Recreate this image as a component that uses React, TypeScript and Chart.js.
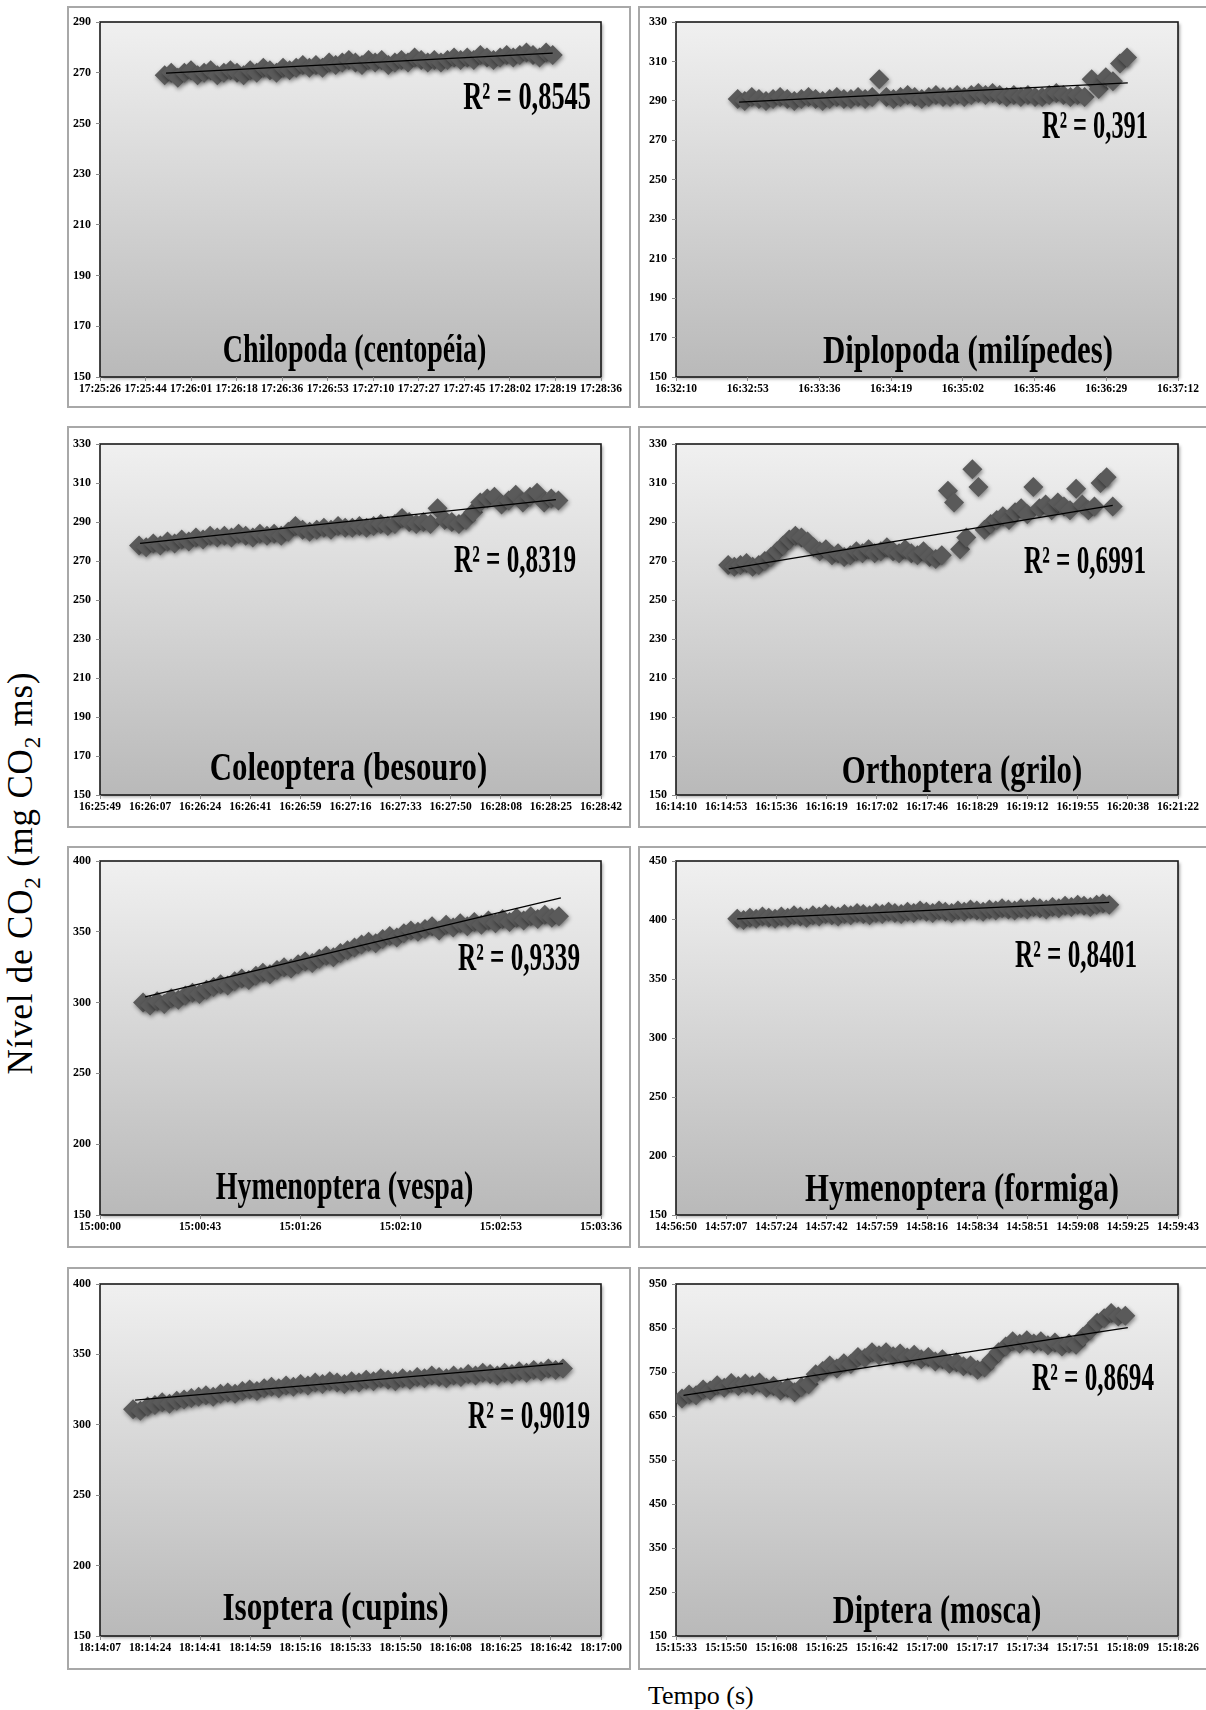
import React, { useEffect, useRef } from "react";
import { Chart, registerables } from "chart.js";
Chart.register(...registerables);

// ---------------- DATA ----------------
const chilopodaTicks = ["17:25:26", "17:25:44", "17:26:01", "17:26:18", "17:26:36", "17:26:53", "17:27:10", "17:27:27", "17:27:45", "17:28:02", "17:28:19", "17:28:36"];
const chilopodaCO2 = [269, 270, 268, 270, 271, 269, 270, 271, 269, 270, 271, 270, 269, 271, 270, 272, 271, 270, 272, 271, 272, 273, 272, 273, 272, 274, 273, 274, 275, 274, 273, 275, 274, 275, 273, 274, 275, 274, 276, 275, 274, 275, 274, 275, 276, 275, 276, 275, 277, 276, 275, 276, 277, 276, 277, 278, 277, 276, 278, 277];
const chilopodaSpan = [1.42, 9.94];
const chilopodaTrend = [1.45, 269.8, 9.94, 277.7];
const chilopodaY = [150, 290, 20];

const diplopodaTicks = ["16:32:10", "16:32:53", "16:33:36", "16:34:19", "16:35:02", "16:35:46", "16:36:29", "16:37:12"];
const diplopodaCO2 = [291, 290, 292, 291, 290, 291, 292, 291, 290, 291, 292, 291, 290, 291, 292, 291, 291, 292, 291, 292, 301, 292, 291, 292, 293, 292, 291, 292, 293, 292, 292, 293, 292, 293, 294, 293, 294, 293, 292, 293, 292, 293, 292, 292, 293, 294, 293, 292, 293, 292, 301, 296, 302, 300, 309, 312];
const diplopodaSpan = [0.86, 6.29];
const diplopodaTrend = [0.88, 289.4, 6.3, 299.1];
const diplopodaY = [150, 330, 20];

const coleopteraTicks = ["16:25:49", "16:26:07", "16:26:24", "16:26:41", "16:26:59", "16:27:16", "16:27:33", "16:27:50", "16:28:08", "16:28:25", "16:28:42"];
const coleopteraCO2 = [278, 277, 279, 278, 280, 279, 281, 280, 282, 281, 283, 282, 283, 282, 284, 283, 282, 284, 283, 284, 283, 285, 288, 286, 285, 286, 287, 286, 288, 287, 287, 288, 287, 288, 289, 288, 289, 292, 290, 289, 290, 289, 297, 291, 290, 289, 291, 295, 300, 302, 303, 299, 301, 304, 300, 303, 305, 300, 302, 301];
const coleopteraSpan = [0.78, 9.15];
const coleopteraTrend = [0.8, 279, 9.1, 301.5];
const coleopteraY = [150, 330, 20];

const orthopteraTicks = ["16:14:10", "16:14:53", "16:15:36", "16:16:19", "16:17:02", "16:17:46", "16:18:29", "16:19:12", "16:19:55", "16:20:38", "16:21:22"];
const orthopteraCO2 = [268, 267, 268, 269, 267, 268, 270, 272, 275, 278, 281, 283, 282, 280, 277, 275, 276, 273, 274, 272, 273, 275, 274, 276, 274, 275, 277, 275, 274, 276, 274, 273, 275, 272, 271, 273, 306, 300, 276, 282, 317, 308, 286, 289, 291, 293, 291, 295, 297, 294, 308, 297, 299, 296, 300, 298, 296, 307, 299, 296, 298, 310, 313, 298];
const orthopteraSpan = [1.04, 8.7];
const orthopteraTrend = [1.05, 266, 8.7, 298.5];
const orthopteraY = [150, 330, 20];

const vespaTicks = ["15:00:00", "15:00:43", "15:01:26", "15:02:10", "15:02:53", "15:03:36"];
const vespaCO2 = [300, 298, 301, 299, 303, 302, 305, 307, 306, 309, 311, 313, 312, 315, 317, 316, 319, 321, 320, 323, 325, 324, 327, 329, 328, 331, 333, 332, 335, 337, 339, 341, 343, 342, 345, 347, 346, 349, 351, 350, 352, 354, 351, 355, 353, 356, 354, 357, 355, 358, 356, 359, 357, 360, 358, 361, 359, 362, 360, 361];
const vespaSpan = [0.43, 4.58];
const vespaTrend = [0.45, 304, 4.6, 374];
const vespaY = [150, 400, 50];

const formigaTicks = ["14:56:50", "14:57:07", "14:57:24", "14:57:42", "14:57:59", "14:58:16", "14:58:34", "14:58:51", "14:59:08", "14:59:25", "14:59:43"];
const formigaCO2 = [401, 400, 402, 401, 403, 402, 401, 403, 402, 404, 403, 402, 404, 403, 405, 404, 403, 405, 404, 406, 405, 404, 406, 405, 407, 406, 405, 407, 406, 408, 407, 406, 408, 407, 406, 408, 407, 409, 408, 407, 409, 408, 410, 409, 408, 410, 409, 411, 410, 409, 411, 410, 412, 411, 413, 412, 411, 413, 414, 413];
const formigaSpan = [1.22, 8.63];
const formigaTrend = [1.22, 401, 8.63, 415];
const formigaY = [150, 450, 50];

const isopteraTicks = ["18:14:07", "18:14:24", "18:14:41", "18:14:59", "18:15:16", "18:15:33", "18:15:50", "18:16:08", "18:16:25", "18:16:42", "18:17:00"];
const isopteraCO2 = [311, 310, 313, 314, 316, 315, 317, 318, 319, 320, 321, 320, 322, 323, 322, 324, 325, 324, 326, 327, 326, 328, 327, 329, 328, 330, 329, 331, 330, 329, 331, 330, 332, 331, 333, 332, 331, 333, 332, 334, 333, 335, 334, 333, 335, 334, 336, 335, 337, 336, 335, 337, 336, 338, 337, 339, 338, 340, 339, 340];
const isopteraSpan = [0.66, 9.24];
const isopteraTrend = [0.7, 317.5, 9.24, 343.5];
const isopteraY = [150, 400, 50];

const dipteraTicks = ["15:15:33", "15:15:50", "15:16:08", "15:16:25", "15:16:42", "15:17:00", "15:17:17", "15:17:34", "15:17:51", "15:18:09", "15:18:26"];
const dipteraCO2 = [690, 699, 697, 710, 708, 720, 714, 725, 718, 724, 720, 726, 714, 718, 708, 714, 704, 716, 722, 745, 752, 765, 758, 770, 768, 784, 782, 795, 788, 795, 786, 792, 783, 789, 779, 784, 774, 779, 769, 772, 763, 765, 755, 760, 778, 795, 808, 820, 814, 822, 815, 820, 811, 817, 808, 815, 812, 830, 845, 862, 872, 884, 876, 878];
const dipteraSpan = [0.12, 8.95];
const dipteraTrend = [0.15, 697, 9.0, 851];
const dipteraY = [150, 950, 100];

const titles = ["Chilopoda (centopéia)", "Diplopoda (milípedes)", "Coleoptera (besouro)", "Orthoptera (grilo)", "Hymenoptera (vespa)", "Hymenoptera (formiga)", "Isoptera (cupins)", "Diptera (mosca)"];
const r2Labels = ["R² = 0,8545", "R² = 0,391", "R² = 0,8319", "R² = 0,6991", "R² = 0,9339", "R² = 0,8401", "R² = 0,9019", "R² = 0,8694"];

const panelData = [
  { ticks: chilopodaTicks, values: chilopodaCO2, span: chilopodaSpan, trend: chilopodaTrend, y: chilopodaY },
  { ticks: diplopodaTicks, values: diplopodaCO2, span: diplopodaSpan, trend: diplopodaTrend, y: diplopodaY },
  { ticks: coleopteraTicks, values: coleopteraCO2, span: coleopteraSpan, trend: coleopteraTrend, y: coleopteraY },
  { ticks: orthopteraTicks, values: orthopteraCO2, span: orthopteraSpan, trend: orthopteraTrend, y: orthopteraY },
  { ticks: vespaTicks, values: vespaCO2, span: vespaSpan, trend: vespaTrend, y: vespaY },
  { ticks: formigaTicks, values: formigaCO2, span: formigaSpan, trend: formigaTrend, y: formigaY },
  { ticks: isopteraTicks, values: isopteraCO2, span: isopteraSpan, trend: isopteraTrend, y: isopteraY },
  { ticks: dipteraTicks, values: dipteraCO2, span: dipteraSpan, trend: dipteraTrend, y: dipteraY },
];

// ---------------- LAYOUT ----------------
const rowFrames = [[6, 408], [426, 828], [846, 1248], [1267, 1670]];
const rowPlots = [[22, 377], [444, 795], [861, 1215], [1284, 1636]];
const colFrames = [[67, 631], [638, 1215]];
const colPlots = [[100, 601], [676, 1178]];
// [title dx from plot centre, title baseline above plot bottom, title h-scale, R² right inset, R² baseline below plot top, R² h-scale]
const textPlacement = [
  [4, 15, 0.7, 10, 87, 0.66], [41, 14, 0.77, 30, 116, 0.61],
  [-2, 15, 0.77, 25, 128, 0.63], [35, 12, 0.77, 32, 129, 0.63],
  [-6, 16, 0.7, 21, 109, 0.63], [35, 14, 0.77, 41, 106, 0.63],
  [-15, 16, 0.78, 11, 144, 0.63], [10, 13, 0.76, 24, 106, 0.63],
];

const SERIF = '"Liberation Serif", "Times New Roman", serif';
const Y_W = 30;
const X_H = 20;

function Panel({ index }: { index: number }) {
  const ref = useRef<HTMLCanvasElement | null>(null);
  const row = Math.floor(index / 2);
  const col = index % 2;
  const [fT, fB] = rowFrames[row];
  const [fL, fR] = colFrames[col];
  const [pT, pB] = rowPlots[row];
  const [pL, pR] = colPlots[col];
  const cLeft = fL + 2;
  const cTop = fT + 2;
  const cRight = col === 1 ? 1206 : fR - 2;
  const cWidth = cRight - cLeft;
  const cHeight = fB - 2 - cTop;

  useEffect(() => {
    const d = panelData[index];
    const n = d.values.length;
    const pts = d.values.map((v, i) => ({ x: d.span[0] + ((d.span[1] - d.span[0]) * i) / (n - 1), y: v }));
    const [tdx, tdy, tsx, rInset, rTop, rsx] = textPlacement[index];
    const canvas = ref.current!;

    const bgPlugin = {
      id: "bg",
      beforeDraw(chart: any) {
        const { ctx, chartArea: a } = chart;
        ctx.save();
        const g = ctx.createLinearGradient(0, a.top, 0, a.bottom);
        g.addColorStop(0, "#f0f0f0");
        g.addColorStop(1, "#b9b9b9");
        ctx.shadowColor = "rgba(0,0,0,0.35)";
        ctx.shadowBlur = 3;
        ctx.shadowOffsetX = 2;
        ctx.shadowOffsetY = 2;
        ctx.fillStyle = g;
        ctx.fillRect(a.left, a.top, a.right - a.left, a.bottom - a.top);
        ctx.shadowColor = "transparent";
        ctx.strokeStyle = "#1a1a1a";
        ctx.lineWidth = 1.6;
        ctx.strokeRect(a.left, a.top, a.right - a.left, a.bottom - a.top);
        ctx.restore();
      },
      beforeDatasetDraw(chart: any, args: any) {
        if (args.index === 1) {
          const ctx = chart.ctx;
          ctx.save();
          ctx.shadowColor = "rgba(0,0,0,0.45)";
          ctx.shadowBlur = 4;
          ctx.shadowOffsetX = 1;
          ctx.shadowOffsetY = 2;
        }
      },
      afterDatasetDraw(chart: any, args: any) {
        if (args.index === 1) chart.ctx.restore();
      },
      afterDraw(chart: any) {
        const { ctx, chartArea: a } = chart;
        ctx.save();
        ctx.fillStyle = "#000";
        ctx.textBaseline = "alphabetic";
        ctx.font = `bold 40px ${SERIF}`;
        ctx.textAlign = "center";
        ctx.translate((a.left + a.right) / 2 + tdx, a.bottom - tdy);
        ctx.scale(tsx, 1);
        ctx.fillText(titles[index], 0, 0);
        ctx.restore();
        ctx.save();
        ctx.fillStyle = "#000";
        ctx.textBaseline = "alphabetic";
        ctx.font = `bold 40px ${SERIF}`;
        ctx.textAlign = "right";
        ctx.translate(a.right - rInset, a.top + rTop);
        ctx.scale(rsx, 1);
        ctx.fillText(r2Labels[index], 0, 0);
        ctx.restore();
      },
    };

    const tickFont = { family: SERIF, size: 11.5, weight: "bold" as const };
    const chart = new Chart(canvas, {
      type: "scatter",
      data: {
        datasets: [
          {
            data: [
              { x: d.trend[0], y: d.trend[1] },
              { x: d.trend[2], y: d.trend[3] },
            ],
            showLine: true,
            borderColor: "#000",
            borderWidth: 1.3,
            pointRadius: 0,
            order: 0,
          } as any,
          {
            data: pts,
            pointStyle: "rectRot",
            pointRadius: 10,
            backgroundColor: "#5a5a5a",
            borderWidth: 0,
            order: 1,
          } as any,
        ],
      },
      options: {
        responsive: false,
        animation: false,
        events: [],
        layout: {
          padding: {
            left: pL - cLeft - Y_W,
            right: cRight - pR,
            top: pT - cTop,
            bottom: cTop + cHeight - pB - X_H,
          },
        },
        plugins: { legend: { display: false }, tooltip: { enabled: false } },
        scales: {
          x: {
            type: "linear",
            position: "bottom",
            min: 0,
            max: d.ticks.length - 1,
            afterFit: (s: any) => {
              s.height = X_H;
            },
            ticks: {
              stepSize: 1,
              autoSkip: false,
              maxRotation: 0,
              minRotation: 0,
              padding: 1,
              color: "#000",
              font: tickFont,
              callback: (v: any) => d.ticks[Math.round(Number(v))] ?? "",
            },
            grid: { display: true, drawOnChartArea: false, drawTicks: true, tickLength: 4, color: "#8a8a8a" },
            border: { display: false },
          },
          y: {
            min: d.y[0],
            max: d.y[1],
            afterFit: (s: any) => {
              s.width = Y_W;
            },
            ticks: { stepSize: d.y[2], padding: 5, color: "#000", font: { ...tickFont, size: 12 } },
            grid: { display: true, drawOnChartArea: false, drawTicks: true, tickLength: 4, color: "#8a8a8a" },
            border: { display: false },
          },
        },
      },
      plugins: [bgPlugin],
    });
    return () => chart.destroy();
  }, [index]);

  return (
    <>
      <div
        style={{
          position: "absolute",
          left: fL,
          top: fT,
          width: fR - fL,
          height: fB - fT,
          boxSizing: "border-box",
          border: "2px solid #a8a8a8",
        }}
      />
      <canvas
        ref={ref}
        width={cWidth}
        height={cHeight}
        style={{ position: "absolute", left: cLeft, top: cTop, width: cWidth, height: cHeight }}
      />
    </>
  );
}

export default function App() {
  return (
    <div
      style={{
        position: "absolute",
        left: 0,
        top: 0,
        width: 1206,
        height: 1710,
        overflow: "hidden",
        background: "#fff",
        fontFamily: SERIF,
      }}
    >
      {panelData.map((_, i) => (
        <Panel key={i} index={i} />
      ))}
      <div
        style={{
          position: "absolute",
          left: 26,
          top: 873,
          transform: "translate(-50%, -50%) rotate(-90deg)",
          whiteSpace: "nowrap",
          fontSize: 35,
          letterSpacing: "0.8px",
          lineHeight: "35px",
          color: "#000",
        }}
      >
        Nível de CO<sub style={{ fontSize: 23 }}>2</sub> (mg CO<sub style={{ fontSize: 23 }}>2</sub> ms)
      </div>
      <div
        style={{
          position: "absolute",
          left: 648,
          top: 1683,
          whiteSpace: "nowrap",
          fontSize: 26,
          lineHeight: "26px",
          color: "#000",
        }}
      >
        Tempo (s)
      </div>
    </div>
  );
}
